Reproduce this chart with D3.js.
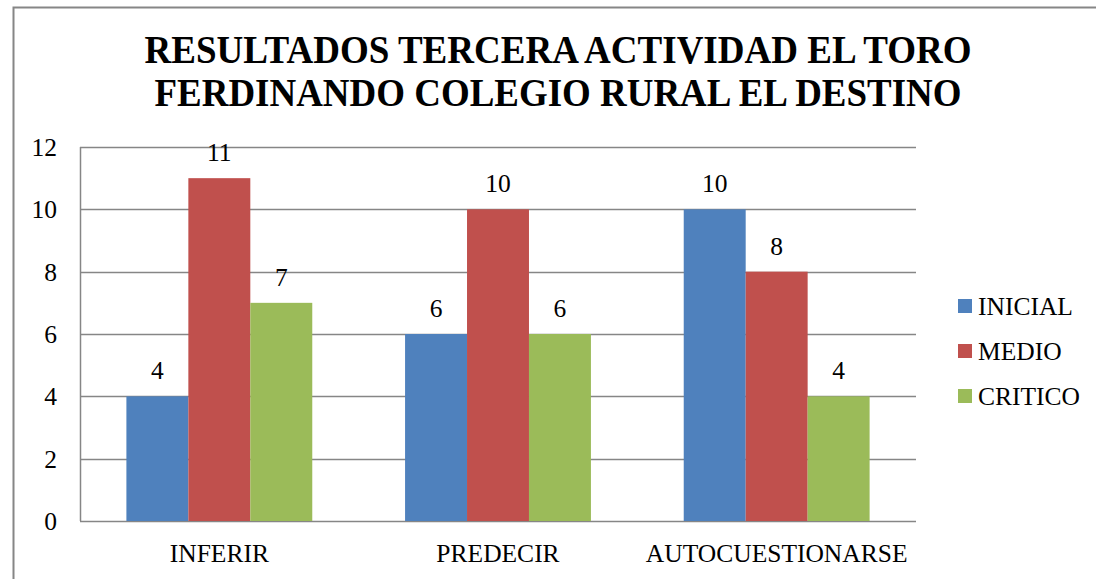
<!DOCTYPE html>
<html>
<head>
<meta charset="utf-8">
<script src="https://cdn.jsdelivr.net/npm/d3@7"></script>
<style>
    body { margin: 0; background: #ffffff; }
    text { font-family: "Liberation Serif", "Times New Roman", serif; fill: #000000; }
    .title { font-weight: bold; font-size: 39px; }
    .tick-label, .cat-label, .bar-label, .legend-label { font-size: 25.5px; }
</style>
</head>
<body>
<div id="chart"></div>
<script>
'use strict';

var categories = ["INFERIR", "PREDECIR", "AUTOCUESTIONARSE"];
var seriesNames = ["INICIAL", "MEDIO", "CRITICO"];
var inicial = [4, 6, 10];
var medio = [11, 10, 8];
var critico = [7, 6, 4];
var yTicks = [0, 2, 4, 6, 8, 10, 12];
var titleLines = ["RESULTADOS TERCERA ACTIVIDAD EL TORO", "FERDINANDO COLEGIO RURAL EL DESTINO"];

var myChart = {};

myChart.width = 1096;
myChart.height = 579;
myChart.plot = {left: 80, right: 916, top: 147, bottom: 521};
myChart.colors = ["#4F81BD", "#C0504D", "#9BBB59"];
myChart.lineColor = "#868686";

myChart.appendSVG = function(div, width, height){
    var svg = d3.select(div).append("svg")
                .attr('width', width)
                .attr('height', height);
    return svg;
}

myChart.createScales = function(){
    var p = myChart.plot;
    myChart.xScale = d3.scaleBand()
                    .domain(categories)
                    .range([p.left, p.right])
                    .paddingInner(0.333)
                    .paddingOuter(0.1665);
    myChart.xSub = d3.scaleBand()
                    .domain(seriesNames)
                    .range([0, myChart.xScale.bandwidth()]);
    myChart.yScale = d3.scaleLinear()
                    .domain([0, 12])
                    .range([p.bottom, p.top]);
}

myChart.createFrame = function(svg){
    // outer chart border (only top and left are visible in the picture)
    svg.append("rect")
        .attr("x", 13.5)
        .attr("y", 7.5)
        .attr("width", 1100)
        .attr("height", 600)
        .attr("fill", "none")
        .attr("stroke", myChart.lineColor)
        .attr("stroke-width", 2);

    svg.selectAll(".title")
        .data(titleLines)
        .enter()
            .append("text")
            .classed("title", true)
            .attr("x", 558)
            .attr("y", function(d, i){ return 63 + i * 43; })
            .attr("text-anchor", "middle")
            .attr("textLength", function(d, i){ return i === 0 ? 827 : 807; })
            .attr("lengthAdjust", "spacingAndGlyphs")
            .text(function(d){ return d; });
}

myChart.createAxes = function(svg){
    var p = myChart.plot;
    var yScale = myChart.yScale;

    svg.selectAll(".grid")
        .data(yTicks)
        .enter()
            .append("line")
            .classed("grid", true)
            .attr("x1", p.left)
            .attr("x2", p.right)
            .attr("y1", function(d){ return Math.round(yScale(d)) + 0.5; })
            .attr("y2", function(d){ return Math.round(yScale(d)) + 0.5; })
            .attr("stroke", myChart.lineColor)
            .attr("stroke-width", 1.5);

    svg.append("line")
        .attr("x1", p.left + 0.5)
        .attr("x2", p.left + 0.5)
        .attr("y1", p.top)
        .attr("y2", p.bottom)
        .attr("stroke", myChart.lineColor)
        .attr("stroke-width", 1.5);

    svg.selectAll(".tick-label")
        .data(yTicks)
        .enter()
            .append("text")
            .classed("tick-label", true)
            .attr("x", 57)
            .attr("y", function(d){ return yScale(d) + 9; })
            .attr("text-anchor", "end")
            .text(function(d){ return d; });

    var xScale = myChart.xScale;
    svg.selectAll(".cat-label")
        .data(categories)
        .enter()
            .append("text")
            .classed("cat-label", true)
            .attr("x", function(d){ return xScale(d) + xScale.bandwidth() / 2; })
            .attr("y", 562)
            .attr("text-anchor", "middle")
            .text(function(d){ return d; });
}

myChart.createBars = function(svg){
    var xScale = myChart.xScale;
    var xSub = myChart.xSub;
    var yScale = myChart.yScale;
    var values = [inicial, medio, critico];

    var rows = [];
    seriesNames.forEach(function(s, si){
        categories.forEach(function(c, ci){
            rows.push({series: s, index: si, category: c, value: values[si][ci]});
        });
    });

    svg.selectAll(".bar")
        .data(rows)
        .enter()
            .append("rect")
            .classed("bar", true)
            .attr("x", function(d){ return xScale(d.category) + xSub(d.series); })
            .attr("y", function(d){ return yScale(d.value); })
            .attr("width", xSub.bandwidth())
            .attr("height", function(d){ return yScale(0) - yScale(d.value); })
            .style("fill", function(d){ return myChart.colors[d.index]; });

    svg.selectAll(".bar-label")
        .data(rows)
        .enter()
            .append("text")
            .classed("bar-label", true)
            .attr("x", function(d){ return xScale(d.category) + xSub(d.series) + xSub.bandwidth() / 2; })
            .attr("y", function(d){ return yScale(d.value) - 17; })
            .attr("text-anchor", "middle")
            .text(function(d){ return d.value; });
}

myChart.createLegend = function(svg){
    var legend = svg.selectAll(".legend")
        .data(seriesNames)
        .enter()
            .append("g")
            .classed("legend", true)
            .attr("transform", function(d, i){ return "translate(958," + (299 + i * 45) + ")"; });

    legend.append("rect")
        .attr("width", 14)
        .attr("height", 14)
        .style("fill", function(d, i){ return myChart.colors[i]; });

    legend.append("text")
        .classed("legend-label", true)
        .attr("x", 20)
        .attr("y", 16)
        .text(function(d){ return d; });
}

myChart.run = function(){
    var svg = myChart.appendSVG("#chart", myChart.width, myChart.height);
    myChart.createScales();
    myChart.createFrame(svg);
    myChart.createAxes(svg);
    myChart.createBars(svg);
    myChart.createLegend(svg);
}

window.onload = myChart.run;
</script>
</body>
</html>
